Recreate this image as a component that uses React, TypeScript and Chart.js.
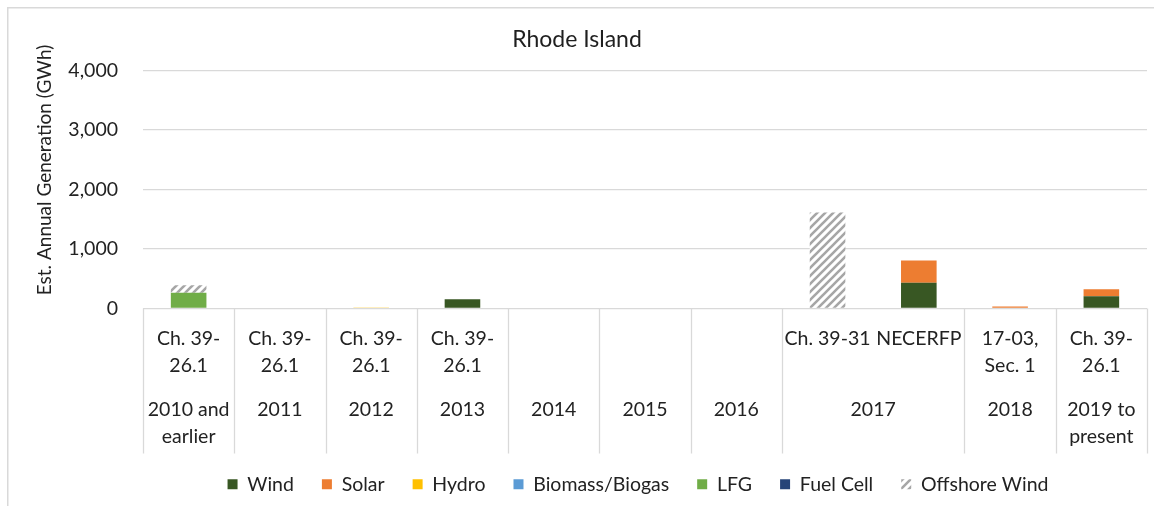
import React, { useEffect, useRef } from "react";
import { Chart, registerables } from "chart.js";

Chart.register(...registerables);

// ---- data ----
const subLabels: string[][] = [
  ["Ch. 39-", "26.1"],
  ["Ch. 39-", "26.1"],
  ["Ch. 39-", "26.1"],
  ["Ch. 39-", "26.1"],
  [],
  [],
  [],
  ["Ch. 39-31"],
  ["NECERFP"],
  ["17-03,", "Sec. 1"],
  ["Ch. 39-", "26.1"],
];
const yearLabels: string[][] = [
  ["2010 and", "earlier"],
  ["2011"],
  ["2012"],
  ["2013"],
  ["2014"],
  ["2015"],
  ["2016"],
  ["2017"],
  ["2018"],
  ["2019 to", "present"],
];
const yearSpans = [1, 1, 1, 1, 1, 1, 1, 2, 1, 1];

const windValues = [0, 0, 0, 155, 0, 0, 0, 0, 435, 0, 205];
const solarValues = [0, 0, 0, 0, 0, 0, 0, 0, 370, 35, 120];
const hydroValues = [0, 0, 15, 0, 0, 0, 0, 0, 0, 0, 0];
const biomassValues = [0, 0, 0, 0, 0, 0, 0, 0, 0, 0, 0];
const lfgValues = [265, 0, 0, 0, 0, 0, 0, 0, 0, 0, 0];
const fuelCellValues = [0, 0, 0, 0, 0, 0, 0, 0, 0, 0, 0];
const offshoreWindValues = [125, 0, 0, 0, 0, 0, 0, 1615, 0, 0, 0];

const yMin = 0;
const yMax = 4000;
const yStep = 1000;

const chartTitle = "Rhode Island";
const yAxisTitle = "Est. Annual Generation (GWh)";

// ---- styles ----
const FONT = "Lato, 'Noto Sans', sans-serif";
const TEXT = "#222222";
const GRID = "#d9d9d9";
const LEGEND_SHIFT = 61;

function slotKeys(): string[] {
  const keys: string[] = [];
  let s = 0;
  yearLabels.forEach((y, gi) => {
    for (let k = 0; k < yearSpans[gi]; k++) {
      keys.push(y.join(" ") + " | " + subLabels[s].join(" "));
      s++;
    }
  });
  return keys;
}

function makeHatch(): CanvasPattern | string {
  const c = document.createElement("canvas");
  c.width = 8;
  c.height = 8;
  const g = c.getContext("2d");
  if (!g) return "#a6a6a6";
  g.fillStyle = "#ffffff";
  g.fillRect(0, 0, 8, 8);
  g.strokeStyle = "#a6a6a6";
  g.lineWidth = 2.6;
  g.beginPath();
  g.moveTo(-2, 10);
  g.lineTo(10, -2);
  g.moveTo(-6, 6);
  g.lineTo(6, -6);
  g.moveTo(2, 14);
  g.lineTo(14, 2);
  g.stroke();
  const p = g.createPattern(c, "repeat");
  return p || "#a6a6a6";
}

const tablePlugin = {
  id: "catTable",
  afterLayout(chart: any) {
    const lg = chart.legend;
    if (lg) {
      lg.left += LEGEND_SHIFT;
      lg.right += LEGEND_SHIFT;
    }
  },
  beforeDraw(chart: any) {
    const ctx = chart.ctx;
    ctx.save();
    ctx.fillStyle = GRID;
    ctx.fillRect(0, 0, 1.5, chart.height);
    ctx.fillRect(0, 0, chart.width, 1.5);
    ctx.restore();
  },
  afterDraw(chart: any) {
    const ctx = chart.ctx;
    const xs = chart.scales.x;
    const area = chart.chartArea;
    const n = subLabels.length;
    const slotW = (area.right - area.left) / n;
    const base = area.bottom;
    ctx.save();
    // boundaries
    ctx.strokeStyle = GRID;
    ctx.lineWidth = 1.3;
    let idx = 0;
    const bounds: number[] = [0];
    yearSpans.forEach((sp) => {
      idx += sp;
      bounds.push(idx);
    });
    bounds.forEach((b) => {
      const px = Math.round(xs.getPixelForValue(0) - slotW / 2 + b * slotW) + 0.5;
      ctx.beginPath();
      ctx.moveTo(px, base);
      ctx.lineTo(px, base + 145);
      ctx.stroke();
    });
    ctx.fillStyle = TEXT;
    ctx.font = `19.5px ${FONT}`;
    ctx.textAlign = "center";
    ctx.textBaseline = "middle";
    // sub labels
    subLabels.forEach((lines, i) => {
      const cx = xs.getPixelForValue(i);
      lines.forEach((t, li) => {
        ctx.fillText(t, cx, base + 30 + li * 27);
      });
    });
    // year labels
    let s = 0;
    yearLabels.forEach((lines, gi) => {
      const first = xs.getPixelForValue(s);
      const last = xs.getPixelForValue(s + yearSpans[gi] - 1);
      const cx = (first + last) / 2;
      lines.forEach((t, li) => {
        ctx.fillText(t, cx, base + 101 + li * 27);
      });
      s += yearSpans[gi];
    });
    // y axis title
    ctx.save();
    ctx.translate(38, 163);
    ctx.rotate(-Math.PI / 2);
    ctx.font = `19px ${FONT}`;
    ctx.fillText(yAxisTitle, 0, 0);
    ctx.restore();
    ctx.restore();
  },
};

export default function App() {
  const ref = useRef<HTMLCanvasElement | null>(null);

  useEffect(() => {
    if (!ref.current) return;
    const hatch = makeHatch();
    const ds = (label: string, data: number[], color: any) => ({
      label,
      data,
      backgroundColor: color,
      borderWidth: 0,
      barPercentage: 0.39,
      categoryPercentage: 1,
    });
    const chart = new Chart(ref.current, {
      type: "bar",
      data: {
        labels: slotKeys(),
        datasets: [
          ds("Wind", windValues, "#385723"),
          ds("Solar", solarValues, "#ED7D31"),
          ds("Hydro", hydroValues, "#FFC000"),
          ds("Biomass/Biogas", biomassValues, "#5B9BD5"),
          ds("LFG", lfgValues, "#70AD47"),
          ds("Fuel Cell", fuelCellValues, "#264478"),
          ds("Offshore Wind", offshoreWindValues, hatch),
        ],
      },
      options: {
        animation: false,
        responsive: true,
        maintainAspectRatio: false,
        layout: { padding: { left: 0, right: 14, top: 0, bottom: 9 } },
        plugins: {
          title: {
            display: true,
            text: chartTitle,
            color: "#1f1f1f",
            font: { family: FONT, size: 23, weight: "normal" },
            padding: { top: 19, bottom: 17 },
          },
          legend: {
            position: "bottom",
            labels: {
              boxWidth: 10,
              boxHeight: 10,
              padding: 28,
              color: TEXT,
              font: { family: FONT, size: 19.5 },
            },
          },
          tooltip: { enabled: false },
        },
        scales: {
          x: {
            stacked: true,
            grid: { display: false },
            border: { display: false },
            ticks: { display: false },
            afterFit: (s: any) => {
              s.height = 138;
            },
          },
          y: {
            stacked: true,
            min: yMin,
            max: yMax,
            grid: { color: GRID, drawTicks: false, lineWidth: 1.3 },
            border: { display: false },
            ticks: {
              stepSize: yStep,
              padding: 25,
              color: TEXT,
              font: { family: FONT, size: 19.5 },
              callback: (v: any) => Number(v).toLocaleString("en-US"),
            },
            title: { display: false },
            afterFit: (s: any) => {
              s.width = 136;
            },
          },
        },
      },
      plugins: [tablePlugin],
    });
    return () => chart.destroy();
  }, []);

  return (
    <div style={{ position: "fixed", left: 0, top: 0, right: 0, bottom: 0, overflow: "hidden", background: "#fff" }}>
      <div style={{ position: "absolute", left: 7, top: 7, width: 1154, height: 506 }}>
        <canvas ref={ref} />
      </div>
    </div>
  );
}
